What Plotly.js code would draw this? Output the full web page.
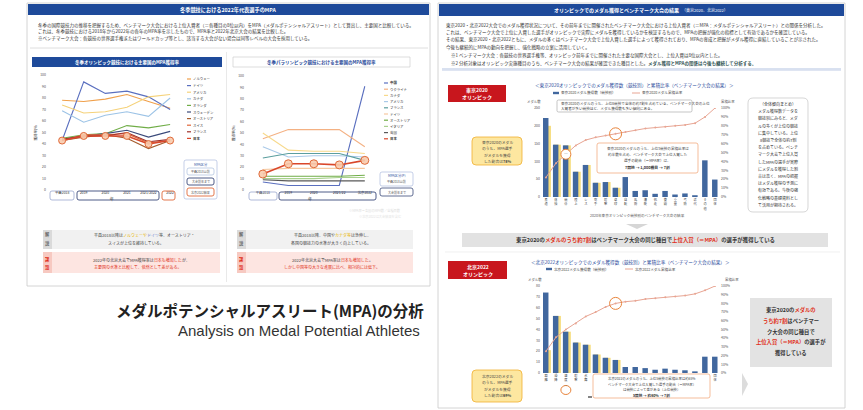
<!DOCTYPE html>
<html><head><meta charset="utf-8">
<script src="https://cdn.plot.ly/plotly-3.0.1.min.js"></script>
<style>html,body{margin:0;padding:0;background:#fff}#c{width:863px;height:410px}</style>
</head><body><div id="c"></div><script>
// ---------------- DATA ----------------
const olyYears=["平昌2018","2019","2020","2021","2021/2022","2022"];
const olyNorway=[78,77,79,83,77,71];
const olyGermany=[43,94,84,86,81,70];
const olyUSA=[74,67,68,72,81,83];
const olyCanada=[69,59,65,68,64,80];
const olyNetherlands=[45,48,49,56,54,57];
const olySweden=[44,47,49,52,46,51];
const olyAustria=[43,46,48,45,36,43];
const olySwiss=[43,48,48,49,41,43];
const olyFrance=[44,47,47,50,42,44];
const olyJapan=[43,47,47,47,40,43];
const olyNames=["ノルウェー","ドイツ","アメリカ","カナダ","オランダ","スウェーデン","オーストリア","スイス","フランス","日本"];

const paraYears=["平昌2018","2019","2020","2021/22","北京2022"];
const paraChina=[7,4,4,4,91];
const paraUkraine=[45,53,53,53,38];
const paraCanada=[50,35,34,34,32];
const paraUSA=[38,29,30,30,29];
const paraFrance=[28,32,32,32,26];
const paraGermany=[18,19,19,19,19];
const paraAustria=[12,12,12,12,13];
const paraItaly=[10,10,10,11,11];
const paraGB=[9,8,8,8,8];
const paraJapan=[14,23,23,22,26];
const paraNames=["中国","ウクライナ","カナダ","アメリカ","フランス","ドイツ","オーストリア","イタリア","英国","日本"];

const tokyoSports=["柔道","体操","競泳","陸上","レス","空手","射撃","卓球","自転","馬術","漕艇","帆走","拳闘","重量","弓術","近代","その他","団体"];
const tokyoMedals=[222,147,145,71,90,40,42,26,56,17,19,9,17,7,10,5,103,49];
const tokyoMPA=[200,147,145,71,90,40,42,26,0,0,0,0,0,0,0,0,0,0];
const tokyoCum=[22,38,48,58,64,67,69,71,73,75,77,78,79,80,81,83,90,100];

const beijingSports=["距離","滑降","速度","射撃","氷舞","雪板","橇","曲技","石","跳躍","複合","自由","短距","回転","氷球","骨橇","その他","団体"];
const beijingMedals=[74,52.5,38,28,26,17,14,12,5.5,5.5,4.5,3,4,3,2.5,1.5,15,15];
const beijingMPA=[21,52.5,38,28,26,17,14,12,0,0,0,0,0,0,0,0,0,0];
const beijingCum=[25,41,50,57,65,70,76,80,82,83,85,86,87,88,89,91,95,100];

// ---------------- STYLE / HELPERS ----------------
const FONT='"Noto Sans CJK JP","Noto Sans",sans-serif';
const W=863,H=410;
const X=p=>p/W, Y=p=>1-p/H;
const RED='#e03020';
const olyColors=["#f0a04b","#5a6fbf","#f5d27a","#9cc3e6","#70ad47","#3b4a7a","#a65d2e","#e0663a","#a0302a","#d9472b"];
const paraColors=["#5a6fbf","#f4b183","#f7d98b","#a9c9e8","#5b9e9e","#f6c89f","#70ad47","#a9d18e","#595959","#d9472b"];
const olySeries=[olyNorway,olyGermany,olyUSA,olyCanada,olyNetherlands,olySweden,olyAustria,olySwiss,olyFrance,olyJapan];
const paraSeries=[paraChina,paraUkraine,paraCanada,paraUSA,paraFrance,paraGermany,paraAustria,paraItaly,paraGB,paraJapan];

const shapes=[], ann=[];
function rect(x0,y0,x1,y1,fill,line,lw,layer){shapes.push({type:'rect',xref:'paper',yref:'paper',x0:X(x0),x1:X(x1),y0:Y(y1),y1:Y(y0),fillcolor:fill||'rgba(0,0,0,0)',line:{color:line||'rgba(0,0,0,0)',width:line?(lw||0.7):0},layer:layer||'above'});}
function rr(x0,y0,x1,y1,r,fill,line,lw){const a=X(x0),b=X(x1),c=Y(y0),d=Y(y1),rx=r/W,ry=r/H;
 shapes.push({type:'path',xref:'paper',yref:'paper',path:`M ${a+rx},${c} L ${b-rx},${c} Q ${b},${c} ${b},${c-ry} L ${b},${d+ry} Q ${b},${d} ${b-rx},${d} L ${a+rx},${d} Q ${a},${d} ${a},${d+ry} L ${a},${c-ry} Q ${a},${c} ${a+rx},${c} Z`,fillcolor:fill||'rgba(0,0,0,0)',line:{color:line||'rgba(0,0,0,0)',width:line?(lw||0.7):0},layer:'above'});}
function ln(x0,y0,x1,y1,color,w,dash){shapes.push({type:'line',xref:'paper',yref:'paper',x0:X(x0),x1:X(x1),y0:Y(y0),y1:Y(y1),line:{color,width:w||0.7,dash:dash||'solid'},layer:'above'});}
function T(px,py,text,size,color,anchor,extra){ann.push(Object.assign({xref:'paper',yref:'paper',x:X(px),y:Y(py),text,showarrow:false,font:{family:FONT,size,color:color||'#333'},xanchor:anchor||'left',yanchor:'middle',borderpad:0},extra||{}));}
const red=s=>`<span style="color:${RED}">${s}</span>`;

// ---------------- TRACES ----------------
const traces=[];
olySeries.forEach((v,i)=>{const jp=i===olySeries.length-1;
 traces.push({type:'scatter',mode:jp?'lines+markers':'lines',x:olyYears,y:v,xaxis:'x',yaxis:'y',showlegend:false,hoverinfo:'skip',
  line:{color:olyColors[i],width:jp?1.6:1.1},marker:{size:7,color:'rgba(248,203,173,0.9)',line:{color:'#e06a3a',width:1}}});});
paraSeries.forEach((v,i)=>{const jp=i===paraSeries.length-1;
 traces.push({type:'scatter',mode:jp?'lines+markers':'lines',x:paraYears,y:v,xaxis:'x2',yaxis:'y2',showlegend:false,hoverinfo:'skip',
  line:{color:paraColors[i],width:jp?1.6:1.1},marker:{size:8,color:'rgba(248,203,173,0.9)',line:{color:'#e06a3a',width:1}}});});
traces.push({type:'bar',x:tokyoSports,y:tokyoMPA,xaxis:'x3',yaxis:'y3',width:0.7,offset:-0.2,marker:{color:'#f6dc7c'},showlegend:false,hoverinfo:'skip'});
traces.push({type:'bar',x:tokyoSports,y:tokyoMedals,xaxis:'x3',yaxis:'y3',width:0.55,offset:-0.3,marker:{color:'#41679e'},showlegend:false,hoverinfo:'skip'});
traces.push({type:'scatter',mode:'lines+markers',x:tokyoSports,y:tokyoCum,xaxis:'x3',yaxis:'y4',line:{color:'#e8a593',width:1},marker:{size:2,color:'#e8a593'},showlegend:false,hoverinfo:'skip'});
traces.push({type:'bar',x:beijingSports,y:beijingMPA,xaxis:'x4',yaxis:'y5',width:0.7,offset:-0.2,marker:{color:'#f6dc7c'},showlegend:false,hoverinfo:'skip'});
traces.push({type:'bar',x:beijingSports,y:beijingMedals,xaxis:'x4',yaxis:'y5',width:0.55,offset:-0.3,marker:{color:'#41679e'},showlegend:false,hoverinfo:'skip'});
traces.push({type:'scatter',mode:'lines+markers',x:beijingSports,y:beijingCum,xaxis:'x4',yaxis:'y6',line:{color:'#e8a593',width:1},marker:{size:2,color:'#e8a593'},showlegend:false,hoverinfo:'skip'});

// ---------------- AXES ----------------
const tf={family:FONT,size:3.5,color:'#555'};
const base={showgrid:false,zeroline:false,showline:false,ticks:'',tickfont:tf};
const vert=a=>a.map(s=>s.split('').join('<br>'));
// the lower chart's middle labels sit under the callout box in the reference, so they are not shown
const beijingLabels=vert(beijingSports).map((s,i)=>(i>=5&&i<=16)?'':s);
const layout={
 width:W,height:H,margin:{l:0,r:0,t:0,b:0},paper_bgcolor:'#fff',plot_bgcolor:'rgba(0,0,0,0)',barmode:'overlay',
 font:{family:FONT},
 xaxis:Object.assign({},base,{domain:[X(47),X(176.6)],anchor:'y',type:'category',range:[-0.7,5.3],tickmode:'array',tickvals:olyYears,ticktext:olyYears,tickfont:{family:FONT,size:3.4,color:'#333'},title:{text:'年',font:{size:4,color:'#333'},standoff:3}}),
 yaxis:Object.assign({},base,{domain:[Y(190),Y(75)],anchor:'x',range:[0,100],dtick:10,title:{text:'獲得率(%)',font:{size:3.5,color:'#333'},standoff:2}}),
 xaxis2:Object.assign({},base,{domain:[X(245),X(375)],anchor:'y2',type:'category',range:[-0.7,4.4],tickmode:'array',tickvals:paraYears,ticktext:paraYears,tickfont:{family:FONT,size:3.4,color:'#333'},title:{text:'年',font:{size:4,color:'#333'},standoff:3}}),
 yaxis2:Object.assign({},base,{domain:[Y(190),Y(76)],anchor:'x2',range:[0,100],dtick:10,title:{text:'獲得率(%)',font:{size:3.5,color:'#333'},standoff:2}}),
 xaxis3:Object.assign({},base,{domain:[X(541),X(720)],anchor:'y3',type:'category',range:[-0.5,17.5],tickmode:'array',tickvals:tokyoSports,ticktext:vert(tokyoSports),tickfont:{family:FONT,size:3.2,color:'#444'}}),
 yaxis3:Object.assign({},base,{domain:[Y(197),Y(108)],anchor:'x3',range:[0,250],dtick:50}),
 yaxis4:Object.assign({},base,{domain:[Y(197),Y(108)],anchor:'x3',overlaying:'y3',side:'right',range:[0,100],dtick:10,ticksuffix:'%'}),
 xaxis4:Object.assign({},base,{domain:[X(541),X(720)],anchor:'y5',type:'category',range:[-0.5,17.5],tickmode:'array',tickvals:beijingSports,ticktext:beijingLabels,tickfont:{family:FONT,size:3.2,color:'#444'}}),
 yaxis5:Object.assign({},base,{domain:[Y(373),Y(286)],anchor:'x4',range:[0,80],dtick:10}),
 yaxis6:Object.assign({},base,{domain:[Y(373),Y(286)],anchor:'x4',overlaying:'y5',side:'right',range:[0,100],dtick:10,ticksuffix:'%'}),
};

// ---------------- LEFT PANEL ----------------
rect(27,3,430,286,'#fff','#c9c9c9',0.8,'below');
rect(28,4,429,15,'#1e4a9a');
T(228,9.5,'<b>冬季競技における2022年代表選手のMPA</b>',5.2,'#fff','center');
const lb=["冬季の国際競技力の推移を把握するため、ベンチマーク大会における上位入賞者（＝各種目の8位以内）をMPA（メダルポテンシャルアスリート）として算出し、主要国と比較している。",
"これは、冬季競技における2018年から2022年の各年のMPA率を示したもので、MPA率と2022年北京大会の結果を比較した。",
"※ベンチマーク大会：各競技の世界選手権またはワールドカップ等とし、該当する大会がない場合は同等レベルの大会を採用している。"];
lb.forEach((s,i)=>T(37,25+i*7,s,4.5,'#333'));
ln(30,48,428,48,'#d5d5d5',0.8);
rect(32,57,222,67,'#1e4a9a');
T(127,62,'<b>冬季オリンピック競技における主要国のMPA獲得率</b>',4.5,'#fff','center');
rect(233,57,410,67,'#fff','#c8c8c8',0.6);
T(321,62,'<b>冬季パラリンピック競技における主要国のMPA獲得率</b>',4.5,'#2b4c9b','center');
ln(226.5,52,226.5,282,'#e3e3e3',0.8);
// manual legends
olyNames.forEach((n,i)=>{const y=79+i*6.6;ln(187,y,191,y,olyColors[i],1.2);T(192,y,i===olyNames.length-1?'<b>'+n+'</b>':n,3.4,'#333');});
paraNames.forEach((n,i)=>{const y=83+i*6.2;ln(384,y,388,y,paraColors[i],1.2);T(389,y,(i===0||i===paraNames.length-1)?'<b>'+n+'</b>':n,3.4,'#333');});
// category boxes
rr(50,191,74,200,2,null,'#8d9cc9',0.7);
rr(77,191,159,200,2,null,'#3b4a7a',0.9);
rr(162,191,175,200,2,null,'#e06a3a',0.9);
rr(249,192,277,200,2,null,'#8d9cc9',0.7);
rr(279,192,376,200,2,null,'#3b4a7a',0.9);
// MPA 区分 legend boxes
rr(184,160,217,199,2,'#fff','#9fb0d8',0.6);
T(200.5,164,'MPA区分',3.3,'#2b4c9b','center');
rr(187,168,214,175,2,'#fff','#9cb3d6',0.6);T(200.5,171.5,'平昌2018以前',3,'#555','center');
rr(187,178,214,185,2,'#fff','#3b4a7a',0.9);T(200.5,181.5,'大会前年まで',3,'#555','center');
rr(187,188,214,196,2,'#fff','#e06a3a',0.9);T(200.5,192,'北京2022結果',3,'#555','center');
rr(380,172,413,186,2,'#fff','#9fb0d8',0.6);
T(396.5,176,'MPA区分(P)',3.3,'#2b4c9b','center');
T(396.5,182,'平昌2018以前',3,'#555','center');
rr(380,188,413,196,2,'#fff','#3b4a7a',0.8);T(396.5,192,'大会前年まで',3,'#555','center');
T(375,210,'※MPA率＝各国のMPA数／全種目数',3.2,'#ddd','center');
T(380,216,'※北京2022は大会結果を含む',3.2,'#e3e3e3','center');
// bottom boxes
[[43,220,135],[237,413,325]].forEach(([a,b,c],k)=>{
 rect(a,230,b,249,'#f1f1f1');rect(a,230,a+9,249,'#dadada');
 T(a+4.5,235,'<b>解</b>',4.2,'#666','center');T(a+4.5,243,'<b>説</b>',4.2,'#666','center');
 rect(a,252,b,273,'#fde5e1');rect(a,252,a+9,273,'#f7c9c1');
 T(a+4.5,259,'<b>課</b>',4.2,RED,'center');T(a+4.5,267,'<b>題</b>',4.2,RED,'center');
});
T(144,235.5,'平昌2018以降は<span style="color:#e8b400">ノルウェーや</span><span style="color:#6a7fd0">ドイツ</span>等、オーストリア・',4,'#444','center');
T(136,242.5,'スイスが上位を維持している。',4,'#444','center');
T(141,260,'2022年の北京大会でMPA獲得率は'+red('日本も増加した')+'が、',4,'#444','center');
T(138,267,red('主要国の水準と比較して、依然として差がある。'),4,'#444','center');
T(332,235.5,'平昌2018以降、中国や<span style="color:#e8b400">カナダ等</span>は急伸し、',4,'#444','center');
T(331,242.5,'各国の競技力の水準が大きく向上している。',4,'#444','center');
T(332,260,'2022年北京大会でMPA率は'+red('日本も増加した')+'。',4,'#444','center');
T(332,267,red('しかし中国等の大きな進展に比べ、相対的には低下。'),4,'#444','center');

// ---------------- CAPTION ----------------
T(425,310,'<b>メダルポテンシャルアスリート(MPA)の分析</b>',15.5,'#222','right');
T(421,330,'Analysis on Medal Potential Athletes',15,'#333','right',{font:{family:'"Liberation Sans",Arial,sans-serif',size:15,color:'#333'}});

// ---------------- RIGHT PANEL ----------------
rect(438,3,845,408,'#fff','#c9c9c9',0.8,'below');
rect(439,4,844,16,'#1e4a9a');
T(641,10,'<b>オリンピックでのメダル獲得とベンチマーク大会の結果</b>　<span style="font-size:4px">（東京2020、北京2022）</span>',5,'#fff','center');
const rb=["東京2020・北京2022大会でのメダル獲得状況について、その前年までに開催されたベンチマーク大会における上位入賞者（＝MPA：メダルポテンシャルアスリート）との関係を分析した。",
"これは、ベンチマーク大会で上位に入賞した選手がオリンピックで実際にメダルを獲得しているかを検証するもので、MPAの把握が強化の指標として有効であるかを確認している。",
"その結果、東京2020・北京2022ともに、メダルの多くはベンチマーク大会で上位入賞した選手によって獲得されており、MPAの育成と把握がメダル獲得に直結していることが示された。",
"今後も継続的にMPAの動向を把握し、強化戦略の立案に活用していく。"];
rb.forEach((s,i)=>T(445,25+i*7.5,s,4.5,'#333'));
T(450,55,'※1 ベンチマーク大会：各競技の世界選手権等、オリンピック前年までに開催された主要な国際大会とし、上位入賞は8位以内とした。',4.5,'#333');
T(450,63,'※2 分析対象はオリンピック実施種目のうち、ベンチマーク大会の結果が確認できた種目とした。<b style="color:#355">メダル獲得とMPAの関係は今後も継続して分析する。</b>',4.5,'#333');
ln(442,69,841,69,'#9fb3d9',0.8);ln(442,70.5,841,70.5,'#c9d4ea',0.6);

// upper chart decorations
rect(448,85,506,102,'#c8161d');
T(477,90, '<b>東京2020</b>',5,'#fff','center');T(477,97,'<b>オリンピック</b>',5,'#fff','center');
T(634,86,'＜東京2020オリンピックでのメダル獲得数（競技別）と累積比率（ベンチマーク大会の結果）＞',4.6,'#2b4c9b','center');
rect(553,91.8,559,94.2,'#41679e');T(560,93,'東京2020メダル獲得数（競技別）',3.6,'#444');
ln(632,93,640,93,'#e8a593',1);T(641,93,'東京2020メダル累積比率',3.6,'#444');
T(534,101,'メダル数',3.4,'#555','center');T(728,101,'累積比率',3.4,'#555','center');
T(637,215,'2020年東京オリンピック競技別のベンチマーク大会の結果',3.6,'#555','center');
rr(557,100,692,112,1.5,'#fff','#a0a0a0',0.6);
T(560,103.5,'東京2020のメダルのうち、上位8競技で全体の約7割を占めている。ベンチマーク大会の上位',3.6,'#444');
T(560,108.5,'入賞者が多い競技ほど、メダル獲得数も多い傾向にある。',3.6,'#444');
rr(472,137,522,165,4,'#fde7a0','#f0b030',0.8);
['東京2020のメダル','のうち、MPA選手','がメダルを獲得','した割合は<b>78%</b>'].forEach((s,i)=>T(497,142+i*6.5,s,3.8,'#444','center'));
rr(597,143,698,173,2,'#fff','#f0a070',0.7);
['東京2020のメダルのうち、上位3競技の累積比率は','約半数を占め、ベンチマーク大会で上位入賞した','選手の割合（＝MPA率）は、'].forEach((s,i)=>T(647.5,148+i*6.3,s,3.6,'#444','center'));
T(647.5,167.5,'<b>7競技 → 1,000種目 → 7割</b>',3.8,'#333','center');
shapes.push({type:'circle',xref:'x3',yref:'y4',xsizemode:'pixel',ysizemode:'pixel',xanchor:2,yanchor:tokyoCum[2],x0:-5,x1:5,y0:-5,y1:5,fillcolor:'#fff',line:{color:'#e8833a',width:1}});
ann.push({xref:'x3',yref:'y4',x:2,y:tokyoCum[2],text:'<b>―</b>',showarrow:false,font:{size:4,color:'#333'}});
shapes.push({type:'circle',xref:'x3',yref:'y4',xsizemode:'pixel',ysizemode:'pixel',xanchor:7,yanchor:tokyoCum[7],x0:-6,x1:6,y0:-6,y1:6,fillcolor:'rgba(0,0,0,0)',line:{color:'#e8833a',width:1}});
rr(748,98,808,212,5,'#fff','#c4c4c4',0.7);
['（全体傾向まとめ）','メダル獲得数データを','競技別にみると、メダ','ルの多くが上位の競技','に集中している。上位','8競技で全体の約7割','を占めている。ベンチ','マーク大会で上位入賞','したMPAの選手が実際','にメダルを獲得した割','合は高く、MPAの把握','はメダル獲得の予測に','有効である。今後の強','化戦略の基礎資料とし','て活用が期待される。'].forEach((s,i)=>T(778,104+i*7.2,s,4,'#333','center'));

// banner
shapes.push({type:'path',xref:'paper',yref:'paper',path:`M ${X(626)},${Y(224)} L ${X(648)},${Y(224)} L ${X(637)},${Y(229)} Z`,fillcolor:'#d6d6d6',line:{width:0},layer:'above'});
rect(462,233,828,247,'#e2e2e2');
T(645,240,'<b>東京2020の'+red('メダルのうち約7割')+'はベンチマーク大会の同じ種目で'+red('上位入賞（＝MPA）')+'の選手が獲得している</b>',5.4,'#333','center');
ln(445,252,840,252,'#e6e6e6',0.6);

// lower chart decorations
rect(448,261,507,279,'#c8161d');
T(477.5,266.5,'<b>北京2022</b>',5,'#fff','center');T(477.5,273.5,'<b>オリンピック</b>',5,'#fff','center');
T(630,262,'＜北京2022オリンピックでのメダル獲得数（競技別）と累積比率（ベンチマーク大会の結果）＞',4.6,'#2b4c9b','center');
rect(546,267.8,552,270.2,'#41679e');T(553,269,'北京2022メダル獲得数（競技別）',3.6,'#444');
ln(625,269,633,269,'#e8a593',1);T(634,269,'北京2022メダル累積比率',3.6,'#444');
T(535,279,'メダル数',3.4,'#555','center');T(732,279,'累積比率',3.4,'#555','center');
shapes.push({type:'circle',xref:'x4',yref:'y6',xsizemode:'pixel',ysizemode:'pixel',xanchor:7,yanchor:beijingCum[7],x0:-6,x1:6,y0:-6,y1:6,fillcolor:'rgba(0,0,0,0)',line:{color:'#e8833a',width:1}});
shapes.push({type:'circle',xref:'x4',yref:'paper',xsizemode:'pixel',ysizemode:'pixel',xanchor:2,yanchor:Y(390),x0:-5,x1:5,y0:-4.5,y1:4.5,fillcolor:'#fff',line:{color:'#e8833a',width:1}});
ann.push({xref:'x4',yref:'paper',x:2,y:Y(390),text:'<b>―</b>',showarrow:false,font:{size:3.5,color:'#333'}});
rr(472,370,522,402,4,'#fde7a0','#f0b030',0.8);
['北京2022のメダル','のうち、MPA選手','がメダルを獲得','した割合は<b>69%</b>'].forEach((s,i)=>T(497,376+i*6.5,s,3.8,'#444','center'));
rr(593,374,710,398,2,'#fff','#f0a070',0.7);
['北京2022のメダルのうち、上位5競技の累積比率は約65%','ベンチマーク大会で上位入賞した選手の割合（＝MPA率）','は競技によって差がある（上位競技）'].forEach((s,i)=>T(651.5,378.5+i*5.5,s,3.4,'#444','center'));
T(651.5,395,'<b>5競技 → 約60% → 7割</b>',3.6,'#333','center');
ln(588,397,592,397,'#333',1.2);
rect(750,298,832,367,'#e3e3e3');
['<b>東京2020の'+red('メダルの')+'</b>','<b>'+red('うち約7割')+'はベンチマー</b>','<b>ク大会の同じ種目で</b>','<b>'+red('上位入賞（＝MPA）')+'の選手が</b>','<b>獲得している</b>'].forEach((s,i)=>T(791,310+i*10.8,s,5.3,'#333','center'));
shapes.push({type:'path',xref:'paper',yref:'paper',path:`M ${X(742)},${Y(373)} L ${X(748)},${Y(384)} L ${X(742)},${Y(396)} Z`,fillcolor:'#dcdcdc',line:{width:0},layer:'above'});

layout.shapes=shapes;layout.annotations=ann;
Plotly.newPlot('c',traces,layout,{displayModeBar:false,staticPlot:true});
</script></body></html>
